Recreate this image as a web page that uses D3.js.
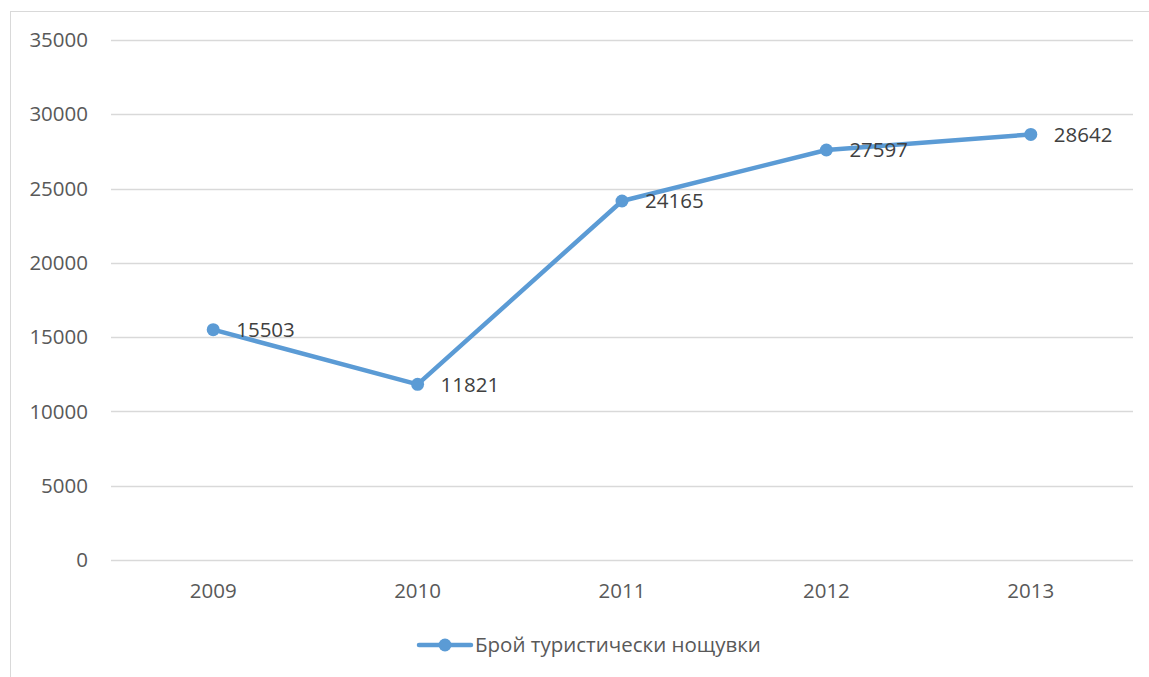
<!DOCTYPE html>
<html>
<head>
<meta charset="utf-8">
<script src="https://cdn.jsdelivr.net/npm/d3@7"></script>
<style>
  body { margin: 0; background: #fff; }
  text { font-family: "Open Sans", "Noto Sans", sans-serif; }
</style>
</head>
<body>
<svg id="chart"></svg>
<script>
var years = ["2009", "2010", "2011", "2012", "2013"];
var nights = [15503, 11821, 24165, 27597, 28642];
var yTicks = [0, 5000, 10000, 15000, 20000, 25000, 30000, 35000];
var seriesName = "Брой туристически нощувки";

var width = 1149, height = 677;
var margin = {top: 40, right: 16, bottom: 117, left: 111};
var color = "#5b9bd5";
var fontSize = 20.5;

var svg = d3.select("#chart")
  .attr("width", width)
  .attr("height", height);

// outer chart border
svg.append("rect")
  .attr("x", 10.5).attr("y", 11.5)
  .attr("width", width + 20).attr("height", height + 20)
  .attr("fill", "none")
  .attr("stroke", "#d9d9d9");

var x = d3.scaleBand()
  .domain(years)
  .range([margin.left, width - margin.right]);

var y = d3.scaleLinear()
  .domain([0, 35000])
  .range([height - margin.bottom, margin.top]);

// gridlines
svg.append("g")
  .selectAll("line")
  .data(yTicks)
  .enter().append("line")
    .attr("x1", margin.left)
    .attr("x2", width - margin.right)
    .attr("y1", function(d) { return Math.round(y(d)) + 0.5; })
    .attr("y2", function(d) { return Math.round(y(d)) + 0.5; })
    .attr("stroke", "#d9d9d9")
    .attr("stroke-width", 1.3);

// y labels
svg.append("g")
  .selectAll("text")
  .data(yTicks)
  .enter().append("text")
    .attr("x", 88)
    .attr("y", function(d) { return y(d); })
    .attr("dy", "0.35em")
    .attr("text-anchor", "end")
    .attr("fill", "#595959")
    .attr("font-size", fontSize)
    .text(function(d) { return d; });

// x labels
svg.append("g")
  .selectAll("text")
  .data(years)
  .enter().append("text")
    .attr("x", function(d) { return x(d) + x.bandwidth() / 2; })
    .attr("y", height - margin.bottom + 31)
    .attr("dy", "0.35em")
    .attr("text-anchor", "middle")
    .attr("fill", "#595959")
    .attr("font-size", fontSize)
    .text(function(d) { return d; });

var points = years.map(function(d, i) { return {year: d, value: nights[i]}; });

var line = d3.line()
  .x(function(d) { return x(d.year) + x.bandwidth() / 2; })
  .y(function(d) { return y(d.value); });

svg.append("path")
  .datum(points)
  .attr("d", line)
  .attr("fill", "none")
  .attr("stroke", color)
  .attr("stroke-width", 4.5)
  .attr("stroke-linejoin", "round")
  .attr("stroke-linecap", "round");

svg.append("g")
  .selectAll("circle")
  .data(points)
  .enter().append("circle")
    .attr("cx", function(d) { return x(d.year) + x.bandwidth() / 2; })
    .attr("cy", function(d) { return y(d.value); })
    .attr("r", 6.5)
    .attr("fill", color);

// data labels
svg.append("g")
  .selectAll("text")
  .data(points)
  .enter().append("text")
    .attr("x", function(d) { return x(d.year) + x.bandwidth() / 2 + 23; })
    .attr("y", function(d) { return y(d.value); })
    .attr("dy", "0.35em")
    .attr("fill", "#404040")
    .attr("font-size", fontSize)
    .text(function(d) { return d.value; });

// legend
var lg = svg.append("g").attr("transform", "translate(417,645)");
lg.append("line")
  .attr("x1", 2).attr("x2", 54)
  .attr("stroke", color)
  .attr("stroke-width", 4.5)
  .attr("stroke-linecap", "round");
lg.append("circle")
  .attr("cx", 28).attr("r", 6.5)
  .attr("fill", color);
lg.append("text")
  .attr("x", 58)
  .attr("dy", "0.35em")
  .attr("fill", "#595959")
  .attr("font-size", fontSize)
  .text(seriesName);
</script>
</body>
</html>
